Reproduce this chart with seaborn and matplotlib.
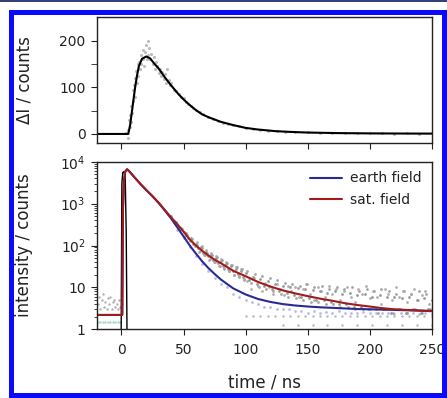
import numpy as np
import pandas as pd
import matplotlib
matplotlib.use("Agg")
import matplotlib.pyplot as plt
import matplotlib.patches as mpatches
import seaborn as sns

# ---- top panel: delta I (sat - earth) ----
dI_fit_t = [-20, 0, 5.5, 7, 8.5, 10, 11, 12.5, 14, 16.5, 20, 23, 27, 30, 35, 40, 46, 50, 55, 60,
            65, 70, 76, 80, 90, 100, 110, 124, 135, 150, 175, 200, 225, 250]
dI_fit_v = [0, 0, 0, 20, 50, 80, 100, 125, 145, 161, 166, 162, 149, 140, 121, 104, 85, 74, 62, 51,
            42, 36, 30, 26, 19, 13, 9.5, 6, 4.5, 3, 1.8, 1.2, 0.9, 0.7]

dI_data_t = [4, 5, 5.5, 6, 6.5, 7, 7.5, 8, 8.5, 9, 9.5, 10, 10.5, 11, 12, 12.5, 13, 13.5, 14, 15,
             15.5, 16, 17, 17.5, 18, 19, 20, 20.5, 21, 21.5, 22, 23, 24, 25, 26, 27, 28, 29, 30, 31,
             32, 33, 34, 35, 36, 37, 38, 39, 40, 42, 44, 46, 48, 50, 52, 54, 56, 58, 60, 63,
             66, 70, 74, 78, 82, 86, 90, 95, 100, 106, 112, 118, 125, 132, 140, 150, 160, 170, 180, 190,
             200, 210, 220, 230, 240, 250]
dI_data_v = [2, 8, -8, 30, 15, 40, 25, 60, 45, 95, 70, 105, 80, 120, 135, 110, 150, 125, 155, 140,
             170, 150, 160, 180, 145, 175, 190, 160, 200, 170, 185, 160, 172, 150, 165, 140, 155, 145, 130, 140,
             125, 132, 118, 128, 110, 140, 115, 105, 110, 95, 92, 85, 80, 76, 68, 65, 60, 55, 52, 47,
             42, 37, 32, 28, 24, 21, 19, 16, 13, 11, 9, 7, 6, 5, 4, 4, 2, 3, 1, 2,
             1, 2, 0, 1, 0, 1]

# ---- bottom panel: fluorescence decays ----
irf_t = [-0.3, 0.3, 1, 2, 3, 3.8, 4.5]
irf_v = [0.5, 3000, 5500, 5800, 4500, 200, 0.5]

fit_t = [-20, 0, 0.6, 1.2, 2, 3, 4.5, 7, 10, 15, 20, 25, 30, 35, 40, 45, 50, 55, 60, 65,
         70, 75, 80, 90, 100, 110, 120, 130, 140, 150, 160, 170, 180, 190, 200, 210, 220, 230, 240, 250]
sat_fit = [2.2, 2.2, 2.2, 800, 3500, 5800, 6600, 5600, 4400, 3000, 2100, 1500, 1050, 700, 470, 320, 215, 140, 100, 75,
           58, 46, 38, 25, 18.5, 13.5, 10.5, 8.5, 7.2, 6.2, 5.4, 4.8, 4.2, 3.8, 3.5, 3.2, 3.0, 2.9, 2.8, 2.7]
earth_fit = [2.2, 2.2, 2.2, 800, 3500, 5800, 6600, 5600, 4400, 3000, 2100, 1500, 1030, 680, 440, 270, 165, 100, 64, 42,
             29, 21, 15.5, 9.5, 6.8, 5.3, 4.5, 4.0, 3.7, 3.5, 3.35, 3.25, 3.15, 3.05, 3.0, 2.95, 2.9, 2.85, 2.8, 2.75]

satA_t = [40, 42, 44, 46, 48, 50, 52, 54, 56, 58, 60, 62, 64, 66, 68, 70, 72, 74, 76, 78,
          80, 82, 84, 86, 88, 90, 92, 94, 96, 98, 100, 103, 106, 109, 112, 115, 118, 121, 124, 127,
          130, 133, 136, 139, 142, 145, 148, 151, 154, 157, 160, 163, 166, 169, 172, 175, 178, 181, 184, 187,
          190, 193, 196, 199, 202, 205, 208, 211, 214, 217, 220, 223, 226, 229, 232, 235, 238, 241, 244, 247, 250]
satA_v = [500, 390, 370, 280, 265, 205, 195, 150, 150, 110, 108, 85, 90, 68, 70, 55, 60, 45, 50, 38,
          43, 32, 36, 27, 32, 24, 28, 21, 25, 18, 22, 15, 18, 12, 16, 11, 14, 9, 12, 8,
          11, 7.5, 10, 6.5, 9.5, 6, 9, 5.5, 8.5, 5, 8, 5, 7.5, 4.5, 8, 4, 7, 4, 7.5, 3.5,
          6.5, 3.5, 7, 3, 6, 3, 6.5, 3, 6, 2.5, 6, 3, 5.5, 2.5, 6, 3, 5, 2.5, 5.5, 3, 5]

satB_t = [41, 43, 45, 47, 49, 51, 53, 55, 57, 59, 61, 63, 65, 67, 69, 71, 73, 75, 77, 79,
          81, 83, 85, 87, 89, 91, 93, 95, 97, 99, 101.5, 104.5, 107.5, 110.5, 113.5, 116.5, 119.5, 122.5, 125.5, 128.5,
          131.5, 134.5, 137.5, 140.5, 143.5, 146.5, 149.5, 152.5, 155.5, 158.5, 161.5, 164.5, 167.5, 170.5, 173.5, 176.5,
          179.5, 182.5, 185.5, 188.5, 191.5, 194.5, 197.5, 200.5, 203.5, 206.5, 209.5, 212.5, 215.5, 218.5, 221.5, 224.5,
          227.5, 230.5, 233.5, 236.5, 239.5, 242.5, 245.5, 248.5]
satB_v = [430, 340, 330, 240, 250, 170, 180, 125, 140, 95, 105, 75, 85, 60, 68, 48, 58, 40, 52, 33,
          44, 29, 38, 24, 34, 20, 30, 18, 27, 15, 24, 13, 21, 10, 19, 9, 17, 8, 15, 7,
          13, 6, 12, 5.5, 11, 5, 12, 4.5, 10, 4.5, 11, 4, 9, 4, 10, 3.5,
          9, 3.5, 10, 3, 8, 3, 9, 3, 8, 2.5, 9, 3, 8, 2.5, 7, 3,
          8, 2.5, 7, 3, 8, 2.5, 7, 3]

satC_t = [101, 104, 107, 110, 113, 116, 119, 122, 125, 128, 131, 134, 137, 140, 143, 146, 149, 152, 155, 158,
          161, 164, 167, 170, 173, 176, 179, 182, 185, 188, 191, 194, 197, 200, 203, 206, 209, 212, 215, 218,
          221, 224, 227, 230, 233, 236, 239, 242, 245, 248]
satC_v = [14, 9, 17, 11, 8, 13, 10, 7, 12, 9, 6.5, 11, 8, 10, 6, 9, 12, 7, 5, 10,
          8, 6, 11, 7, 9, 5, 8, 10, 6, 4.5, 9, 7, 11, 5.5, 8, 6, 4, 9, 7, 5,
          10, 6, 8, 4.5, 7, 9, 5, 6.5, 8, 4]

satD_t = [60.5, 62.5, 64.5, 66.5, 68.5, 70.5, 72.5, 74.5, 76.5, 78.5, 80.5, 82.5, 84.5, 86.5, 88.5, 90.5,
          92.5, 94.5, 96.5, 98.5]
satD_v = [120, 70, 95, 60, 80, 45, 65, 40, 55, 33, 48, 27, 40, 24, 35, 20, 30, 19, 28, 16]

earth_t = [45, 50, 55, 60, 65, 70, 75, 80, 85, 90, 95, 100, 105, 110, 115, 120, 125, 130, 135, 140,
           145, 150, 155, 160, 165, 170, 175, 180, 185, 190, 195, 200, 205, 210, 215, 220, 225, 230, 235, 240, 245, 250]
earth_v = [240, 150, 90, 55, 36, 24, 17, 12, 10, 7, 6, 5, 4.5, 4, 3.5, 3.5, 3, 3, 3, 2.8,
           2.8, 2.5, 2.8, 2.5, 2.6, 2.5, 2.7, 2.4, 2.5, 2.4, 2.6, 2.4, 2.5, 2.4, 2.5, 2.3, 2.5, 2.4, 2.4, 2.3, 2.4, 2.3]

floor_t = [100, 106, 112, 118, 124, 130, 136, 142, 148, 154, 160, 166, 172, 178, 184, 190, 196, 202, 208, 214,
           220, 226, 232, 238, 244, 250, 130, 142, 154, 166, 178, 190, 202, 214, 226, 238, 250]
floor_v = [2.1, 2.1, 2.1, 2.1, 2.1, 2.1, 2.1, 2.1, 2.1, 2.1, 2.1, 2.1, 2.1, 2.1, 2.1, 2.1, 2.1, 2.1, 2.1, 2.1,
           2.1, 2.1, 2.1, 2.1, 2.1, 2.1, 1.3, 1.3, 1.3, 1.3, 1.3, 1.3, 1.3, 1.3, 1.3, 1.3, 1.3]

pre_t = [-19, -18, -17, -16, -15, -14, -13, -12, -11, -10, -9, -8, -7, -6, -5, -4, -3, -2, -1]
pre_v = [4, 6, 3, 5, 7, 3.5, 4.5, 3, 5.5, 4, 6, 3, 4.5, 5, 3.5, 4, 3, 5, 3.5]
pre_low_t = [-19, -17, -15, -13, -11, -9, -7, -5, -3, -1]
pre_low_v = [1.5, 1.5, 1.5, 1.5, 1.5, 1.5, 1.5, 1.5, 1.5, 1.5]

x_ticks = [0, 50, 100, 150, 200, 250]
log_ticks = [1, 10, 100, 1000, 10000]
log_labels = ["1", "10", r"$10^2$", r"$10^3$", r"$10^4$"]

sns.set_style("ticks")
plt.rcParams.update({
    "font.family": ["DejaVu Sans"],
    "font.size": 10,
    "axes.labelsize": 12,
    "text.color": "#222222",
    "axes.labelcolor": "#222222",
    "xtick.color": "#222222",
    "ytick.color": "#222222",
    "axes.edgecolor": "#222222",
    "axes.linewidth": 1.0,
    "xtick.direction": "out",
    "ytick.direction": "out",
    "xtick.major.size": 4.5,
    "ytick.major.size": 4.5,
    "ytick.minor.size": 2.5,
    "xtick.major.pad": 5.5,
    "mathtext.default": "regular",
})

fig = plt.figure(figsize=(4.47, 3.98), dpi=100)
ax1 = fig.add_axes([0.2163, 0.640, 0.7494, 0.3166])
ax2 = fig.add_axes([0.2163, 0.1726, 0.7494, 0.4211])

# top panel
sns.scatterplot(x=dI_data_t, y=dI_data_v, ax=ax1, color="#bdbdbd", s=5, linewidth=0, legend=False)
sns.lineplot(x=dI_fit_t, y=dI_fit_v, ax=ax1, color="black", lw=1.5, sort=False, estimator=None)
ax1.set_xlim(-20, 250)
ax1.set_ylim(-20, 250)
ax1.set_xticks(x_ticks)
ax1.set_xticklabels([])
ax1.set_yticks([0, 100, 200])
ax1.set_yticks([50, 150], minor=True)
ax1.tick_params(axis="y", which="minor", length=4.5)
ax1.set_ylabel("ΔI / counts")
ax1.yaxis.set_label_coords(-0.19, 0.5)

# bottom panel
sns.scatterplot(x=pre_t, y=pre_v, ax=ax2, color="#b0b0b0", s=3, linewidth=0, legend=False)
sns.scatterplot(x=pre_low_t, y=pre_low_v, ax=ax2, color="#a8d8c8", s=3, linewidth=0, legend=False)
sns.scatterplot(x=floor_t, y=floor_v, ax=ax2, color="#b8b8b8", s=3, linewidth=0, legend=False)
sns.scatterplot(x=earth_t, y=earth_v, ax=ax2, color="#b9bce6", s=4, linewidth=0, legend=False)
sns.scatterplot(x=satC_t, y=satC_v, ax=ax2, color="#b0b0b0", s=4, linewidth=0, legend=False)
sns.scatterplot(x=satD_t, y=satD_v, ax=ax2, color="#b0b0b0", s=4, linewidth=0, legend=False)
sns.scatterplot(x=satB_t, y=satB_v, ax=ax2, color="#a6a6a6", s=4, linewidth=0, legend=False)
sns.scatterplot(x=satA_t, y=satA_v, ax=ax2, color="#999999", s=4, linewidth=0, legend=False)
sns.lineplot(x=irf_t, y=irf_v, ax=ax2, color="black", lw=1.0, sort=False, estimator=None)
sns.lineplot(x=fit_t, y=earth_fit, ax=ax2, color="#2a2a96", lw=1.5, sort=False, estimator=None,
             label="earth field")
sns.lineplot(x=fit_t, y=sat_fit, ax=ax2, color="#a01c1c", lw=1.5, sort=False, estimator=None,
             label="sat. field")
ax2.set_yscale("log")
ax2.set_xlim(-20, 250)
ax2.set_ylim(1, 10000)
ax2.set_xticks(x_ticks)
ax2.set_yticks(log_ticks)
ax2.set_yticklabels(log_labels)
ax2.set_xlabel("time / ns", labelpad=12)
ax2.set_ylabel("intensity / counts")
ax2.yaxis.set_label_coords(-0.19, 0.5)
ax2.legend(loc="upper right", frameon=False, handlelength=2.3, handletextpad=0.6,
           borderaxespad=0.3, labelspacing=0.55, fontsize=10)

# blue frame and dark bar at the top
fig.patches.append(mpatches.Rectangle((0.0235, 0.0063), 0.9709, 0.9623, transform=fig.transFigure,
                                      fill=False, edgecolor="#0a0aff", lw=3.6, zorder=10))
fig.patches.append(mpatches.Rectangle((0, 0.994), 1, 0.006, transform=fig.transFigure,
                                      facecolor="#34407a", edgecolor="none", zorder=10))

fig.savefig("out.png", dpi=100)
